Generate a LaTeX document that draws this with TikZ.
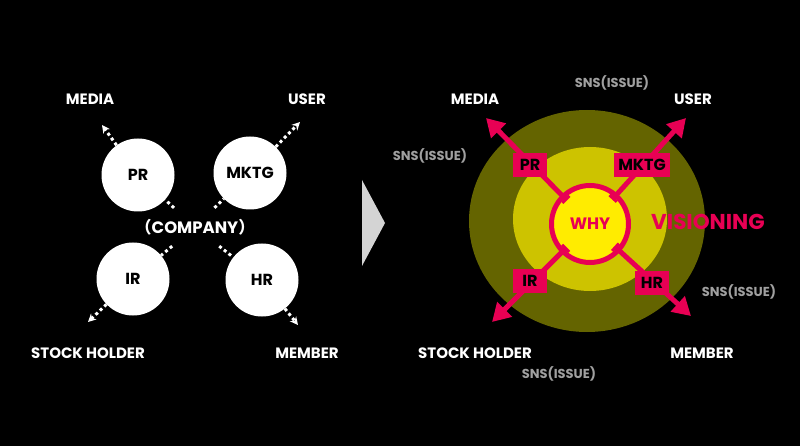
\documentclass[tikz,border=0pt]{standalone}
\usepackage{fontspec}
\setmainfont{Poppins}
\newfontfamily\cjk{Noto Sans CJK JP}
\usetikzlibrary{arrows.meta,positioning,calc}

\definecolor{visionpink}{RGB}{232,0,84}
\definecolor{outerolive}{RGB}{100,100,0}
\definecolor{midyellow}{RGB}{205,195,0}
\definecolor{coreyellow}{RGB}{255,236,0}
\definecolor{snsgray}{RGB}{160,160,160}
\definecolor{chevron}{RGB}{212,212,212}

\begin{document}
\begin{tikzpicture}[
    x=1pt, y=-1pt,
    node font=\bfseries,
    >=Stealth,
    dept/.style={circle, fill=white, inner sep=0pt, minimum size=73pt, font=\bfseries\fontsize{16}{16}\selectfont},
    target/.style={text=white, font=\bfseries\fontsize{15}{15}\selectfont},
    sns/.style={text=snsgray, font=\bfseries\fontsize{13}{13}\selectfont},
    dotline/.style={white, line width=3pt, dash pattern=on 3pt off 3pt},
    dotarrow/.style={dotline, -{Stealth[length=8pt,width=8pt]}},
    pinkarrow/.style={visionpink, line width=5pt, {Bar[width=10pt,line width=3pt]}-{Triangle[length=18pt,width=20pt]}},
    deptbox/.style={fill=visionpink, inner xsep=4pt, inner ysep=0pt, minimum width=34pt, minimum height=24pt, font=\bfseries\fontsize{16}{16}\selectfont},
]

% background
\fill[black] (0,0) rectangle (800,446);

% === LEFT: Company ===
\begin{scope}
    % Departments
    \node[dept] (pr) at (138,175) {PR};
    \node[dept] (mktg) at (250,173) {MKTG};
    \node[dept] (ir) at (133,279) {IR};
    \node[dept] (hr) at (262,280) {HR};

    \node[text=white, inner ysep=11pt, font=\bfseries\fontsize{16.5}{16.5}\selectfont] (company) at (195,227) {{\cjk （}COMPANY{\cjk ）}};

    % Stakeholders
    \node[target] (media) at (90,99) {MEDIA};
    \node[target] (user) at (307,99) {USER};
    \node[target] (stock) at (88,353) {STOCK HOLDER};
    \node[target] (member) at (307,353) {MEMBER};

    % Arrow ends
    \coordinate (pr-out) at (102,125);
    \coordinate (mktg-out) at (300,122);
    \coordinate (ir-out) at (88,322);
    \coordinate (hr-out) at (298,325);

    % Dotted links
    \draw[dotline] (company) -- (pr);
    \draw[dotline] (company) -- (mktg);
    \draw[dotline] (company) -- (ir);
    \draw[dotline] (company) -- (hr);
    \draw[dotarrow] (pr) -- (pr-out);
    \draw[dotarrow] (mktg) -- (mktg-out);
    \draw[dotarrow] (ir) -- (ir-out);
    \draw[dotarrow] (hr) -- (hr-out);
\end{scope}

% === CHEVRON ===
\fill[chevron] (362,180) -- (385,223) -- (362,266) -- cycle;

% === RIGHT: Visioning ===
\begin{scope}
    % Rings
    \fill[outerolive] (587,221) ellipse [x radius=118, y radius=111];
    \fill[midyellow] (590,219) ellipse [x radius=77, y radius=72];
    \node[circle, fill=coreyellow, draw=visionpink, line width=5pt, minimum size=77pt, inner sep=0pt,
          text=visionpink, font=\bfseries\fontsize{16.5}{16.5}\selectfont] (why) at (590,224) {WHY};

    % Stakeholders
    \node[target] (media2) at (475,99) {MEDIA};
    \node[target] (user2) at (693,99) {USER};
    \node[target] (stock2) at (475,353) {STOCK HOLDER};
    \node[target] (member2) at (702,353) {MEMBER};

    % SNS
    \node[sns] (sns-top) at (612,83) {SNS(ISSUE)};
    \node[sns] (sns-left) at (430,156) {SNS(ISSUE)};
    \node[sns] (sns-right) at (739,292) {SNS(ISSUE)};
    \node[sns] (sns-bottom) at (559,374) {SNS(ISSUE)};

    \node[text=visionpink, font=\bfseries\fontsize{21.5}{21.5}\selectfont] (vision) at (708,222) {VISIONING};

    % Arrow ends
    \coordinate (pr2-out) at (486,118);
    \coordinate (mktg2-out) at (686,118);
    \coordinate (ir2-out) at (492,322);
    \coordinate (hr2-out) at (691,316);

    % Pink arrows
    \draw[pinkarrow, shorten <=33pt] (why.center) -- (pr2-out);
    \draw[pinkarrow, shorten <=33pt] (why.center) -- (mktg2-out);
    \draw[pinkarrow, shorten <=33pt] (why.center) -- (ir2-out);
    \draw[pinkarrow, shorten <=33pt] (why.center) -- (hr2-out);

    % Department boxes
    \node[deptbox] (pr2) at (530,165) {PR};
    \node[deptbox] (mktg2) at (642,165) {MKTG};
    \node[deptbox] (ir2) at (530,281) {IR};
    \node[deptbox] (hr2) at (652,283) {HR};
\end{scope}

\end{tikzpicture}
\end{document}
